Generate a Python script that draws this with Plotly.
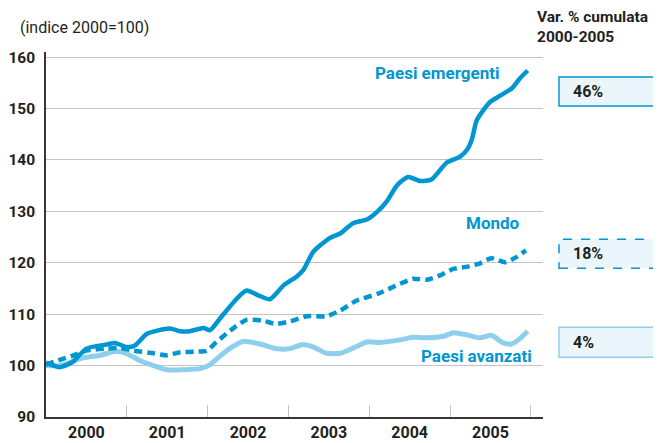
import plotly.graph_objects as go

# ---- data (decimal years, index 2000=100) ----
emerg_x = [2000.00, 2000.17, 2000.33, 2000.50, 2000.75, 2000.85, 2001.00, 2001.10, 2001.25,
           2001.53, 2001.66, 2001.78, 2001.95, 2002.03, 2002.15, 2002.36, 2002.48, 2002.65,
           2002.77, 2002.94, 2003.10, 2003.18, 2003.31, 2003.51, 2003.64, 2003.80, 2003.97,
           2004.09, 2004.22, 2004.34, 2004.48, 2004.63, 2004.77, 2004.96, 2005.12, 2005.21,
           2005.27, 2005.33, 2005.49, 2005.62, 2005.77, 2005.86, 2005.96]
emerg_y = [100.6, 99.7, 100.7, 103.3, 104.1, 104.4, 103.6, 103.9, 106.2,
           107.2, 106.7, 106.7, 107.3, 106.9, 109.1, 113.0, 114.6, 113.5,
           112.9, 115.6, 117.3, 118.5, 122.2, 124.8, 125.7, 127.7, 128.4,
           129.8, 132.0, 135.0, 136.7, 135.9, 136.2, 139.5, 140.6, 142.0,
           144.0, 147.7, 151.2, 152.5, 154.0, 155.8, 157.4]

world_x = [2000.00, 2000.17, 2000.34, 2000.50, 2000.75, 2000.92, 2001.08, 2001.33, 2001.49,
           2001.66, 2001.86, 2001.99, 2002.11, 2002.32, 2002.48, 2002.69, 2002.85, 2003.02,
           2003.23, 2003.47, 2003.64, 2003.84, 2004.11, 2004.38, 2004.54, 2004.71, 2004.87,
           2005.04, 2005.20, 2005.37, 2005.51, 2005.68, 2005.82, 2005.94]
world_y = [100.2, 101.1, 102.0, 102.9, 103.3, 103.4, 102.9, 102.4, 102.0,
           102.6, 102.7, 102.9, 104.6, 107.3, 108.9, 108.7, 108.1, 108.6,
           109.6, 109.6, 110.7, 112.6, 114.0, 115.9, 116.9, 116.7, 117.5,
           118.8, 119.2, 119.9, 120.9, 120.1, 121.1, 122.4]

adv_x = [2000.00, 2000.17, 2000.46, 2000.67, 2000.87, 2001.00, 2001.16, 2001.33, 2001.49,
         2001.70, 2001.91, 2002.03, 2002.15, 2002.28, 2002.44, 2002.65, 2002.85, 2003.02,
         2003.18, 2003.31, 2003.47, 2003.64, 2003.84, 2003.97, 2004.13, 2004.38, 2004.54,
         2004.71, 2004.92, 2005.04, 2005.20, 2005.37, 2005.51, 2005.66, 2005.76, 2005.86, 2005.96]
adv_y = [100.0, 100.0, 101.5, 102.0, 102.8, 102.3, 101.0, 100.0, 99.2,
         99.2, 99.4, 100.2, 101.8, 103.4, 104.7, 104.2, 103.3, 103.3,
         104.1, 103.6, 102.4, 102.4, 103.7, 104.6, 104.5, 105.0, 105.5,
         105.4, 105.7, 106.4, 106.0, 105.4, 105.9, 104.4, 104.2, 105.2, 106.7]

years = ["2000", "2001", "2002", "2003", "2004", "2005"]
y_ticks = [90, 100, 110, 120, 130, 140, 150, 160]
series_names = ["Paesi emergenti", "Mondo", "Paesi avanzati"]
cum_var = ["46%", "18%", "4%"]

# ---- style ----
BLUE = "#0096D2"
LIGHT = "#8ECFEE"
DARK = "#231F20"
GRID = "#C4C4C8"
FILL = "#EAF5FC"
FONT = "Roboto"

fig = go.Figure()
fig.add_trace(go.Scatter(x=adv_x, y=adv_y, mode="lines", name=series_names[2],
                         line=dict(color=LIGHT, width=5, shape="spline", smoothing=0.6)))
fig.add_trace(go.Scatter(x=world_x, y=world_y, mode="lines", name=series_names[1],
                         line=dict(color=BLUE, width=4.5, dash="8px,5px", shape="spline", smoothing=0.6)))
fig.add_trace(go.Scatter(x=emerg_x, y=emerg_y, mode="lines", name=series_names[0],
                         line=dict(color=BLUE, width=4.5, shape="spline", smoothing=0.6)))

year_pos = [int(y) + 0.5 for y in years]
fig.update_xaxes(
    range=[2000, 2006.15], tickvals=year_pos, ticktext=years, ticks="", automargin=False,
    showgrid=False, zeroline=False, showline=True, linecolor="#3A3435", linewidth=1.5,
    tickfont=dict(family=FONT, size=16, color=DARK, weight="bold"),
    ticklabelstandoff=0,
    minor=dict(tickvals=[int(y) + 1 for y in years], ticks="inside", ticklen=12,
               tickcolor=GRID, tickwidth=1.3, showgrid=False),
)
fig.update_yaxes(
    range=[90, 161.0], tickvals=y_ticks, ticks="", showgrid=True, gridcolor=GRID, gridwidth=1.3,
    zeroline=False, showline=True, linecolor="#3A3435", linewidth=1.5, automargin=False,
    tickfont=dict(family=FONT, size=15.5, color=DARK, weight="bold"),
    ticklabelstandoff=6,
)

# the page adds an 8px body margin: size the figure so it fills the 661x443 window
OFF = 8
W, H = 661 - OFF, 443 - OFF
L, R, T, B = 38, 118, 44, 26.4
pw, ph = W - L - R, H - T - B


def px(xp):
    return (xp - OFF - L) / pw


def py(yp):
    return (H - B - (yp - OFF)) / ph


ann = []
lab_font = dict(family=FONT, size=17, color=BLUE, weight="bold")
ann.append(dict(x=px(437), y=py(73), xref="paper", yref="paper", text=series_names[0],
                showarrow=False, font=lab_font, xanchor="center", yanchor="middle"))
ann.append(dict(x=px(493), y=py(223), xref="paper", yref="paper", text=series_names[1],
                showarrow=False, font=lab_font, xanchor="center", yanchor="middle"))
ann.append(dict(x=px(476), y=py(356), xref="paper", yref="paper", text=series_names[2],
                showarrow=False, font=lab_font, xanchor="center", yanchor="middle"))

ann.append(dict(x=px(535), y=py(27), xref="paper", yref="paper",
                text="<b>Var. % cumulata</b><br><b>2000-2005</b>", showarrow=False, align="left",
                font=dict(family=FONT, size=15.5, color=DARK), xanchor="left", yanchor="middle"))
ann.append(dict(x=px(18), y=py(28), xref="paper", yref="paper", text="(indice 2000=100)",
                showarrow=False, font=dict(family=FONT, size=16, color=DARK),
                xanchor="left", yanchor="middle"))

boxes = [(77, 106, BLUE, "solid"), (239, 268, BLUE, "dash"), (327, 357, LIGHT, "solid")]
shapes = []
for (y0, y1, col, dash), txt in zip(boxes, cum_var):
    shapes.append(dict(type="rect", xref="paper", yref="paper", x0=px(559), x1=px(668),
                       y0=py(y1), y1=py(y0), fillcolor=FILL,
                       line=dict(color=col, width=1.5, dash=dash), layer="below"))
    ann.append(dict(x=px(571), y=py((y0 + y1) / 2), xref="paper", yref="paper", text=txt,
                    showarrow=False, font=dict(family=FONT, size=16, color=DARK, weight="bold"),
                    xanchor="left", yanchor="middle"))

fig.update_layout(
    width=W, height=H, margin=dict(l=L, r=R, t=T, b=B, autoexpand=False),
    paper_bgcolor="white", plot_bgcolor="white", showlegend=False,
    annotations=ann, shapes=shapes,
)

fig.write_html("out.html")
